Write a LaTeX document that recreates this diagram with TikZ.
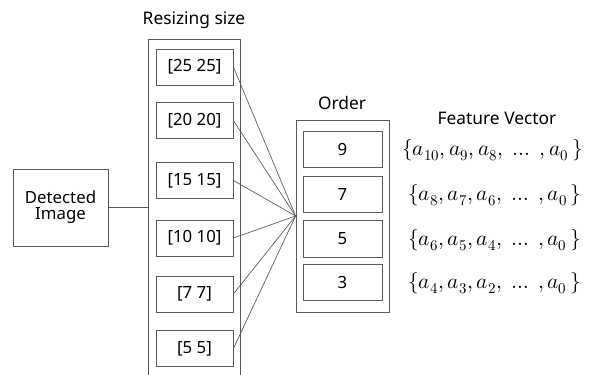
\documentclass[tikz,border=0pt]{standalone}
\usepackage{amsmath}
\usepackage{fontspec}
\usepackage{unicode-math}
\setmainfont{Noto Sans}
\setmathfont{Latin Modern Math}
\usetikzlibrary{positioning,calc}
\definecolor{edge}{RGB}{90,90,90}

\begin{document}
\begin{tikzpicture}[
  x=0.75pt, y=-0.75pt,
  box/.style={draw=edge, line width=0.6pt, minimum width=57.75pt, minimum height=27pt, inner sep=0pt, font=\fontsize{12.6}{14}\selectfont},
  obox/.style={draw=edge, line width=0.6pt, minimum width=59.25pt, minimum height=27.5pt, inner sep=0pt, font=\fontsize{12.6}{14}\selectfont},
  lab/.style={font=\fontsize{13}{15}\selectfont},
  fv/.style={anchor=west, font=\fontsize{16}{18}\selectfont, inner sep=0pt},
  conn/.style={draw=edge, line width=0.5pt},
]
\useasboundingbox (0,0) rectangle (597,375);
% input
\node[box, minimum width=71.25pt, minimum height=57.75pt, align=center] (det) at (60.5,207.5) {Detected\\[-2pt]Image};
% resizing column
\coordinate (rstl) at (148,39);
\coordinate (rstr) at (240,39);
\draw[conn] (148,376) -- (rstl) -- (rstr) -- (240,376);
\node[lab] (rslab) at (194,20) {Resizing size};
\node[box] (rs1) at (194.5,67) {[25 25]};
\node[box] (rs2) at (194.5,120.5) {[20 20]};
\node[box] (rs3) at (194.5,180.5) {[15 15]};
\node[box] (rs4) at (194.5,238) {[10 10]};
\node[box] (rs5) at (194.5,294) {[7 7]};
\node[box] (rs6) at (194.5,348.5) {[5 5]};
% order column
\node[draw=edge, line width=0.6pt, minimum width=69.75pt, minimum height=144pt] (ord) at (342.5,216) {};
\node[lab] (ordlab) at (342,103) {Order};
\node[obox] (o1) at (342.5,149.5) {9};
\node[obox] (o2) at (342.5,194.5) {7};
\node[obox] (o3) at (342.5,239) {5};
\node[obox] (o4) at (342.5,282.5) {3};
% feature vectors
\node[lab] (fvlab) at (497,118) {Feature Vector};
\node[fv] (fv1) at (402,150) {$\{a_{10}, a_9, a_8,\ \dots\ , a_0\,\}$};
\node[fv] (fv2) at (408,195) {$\{a_8, a_7, a_6,\ \dots\ , a_0\,\}$};
\node[fv] (fv3) at (408,240) {$\{a_6, a_5, a_4,\ \dots\ , a_0\,\}$};
\node[fv] (fv4) at (408,283) {$\{a_4, a_3, a_2,\ \dots\ , a_0\,\}$};
% connectors
\draw[conn] (det.east) -- (det.east -| rstl);
\foreach \i in {1,...,6}
  \draw[conn] (rs\i.east) -- (ord.west);
\end{tikzpicture}
\end{document}
